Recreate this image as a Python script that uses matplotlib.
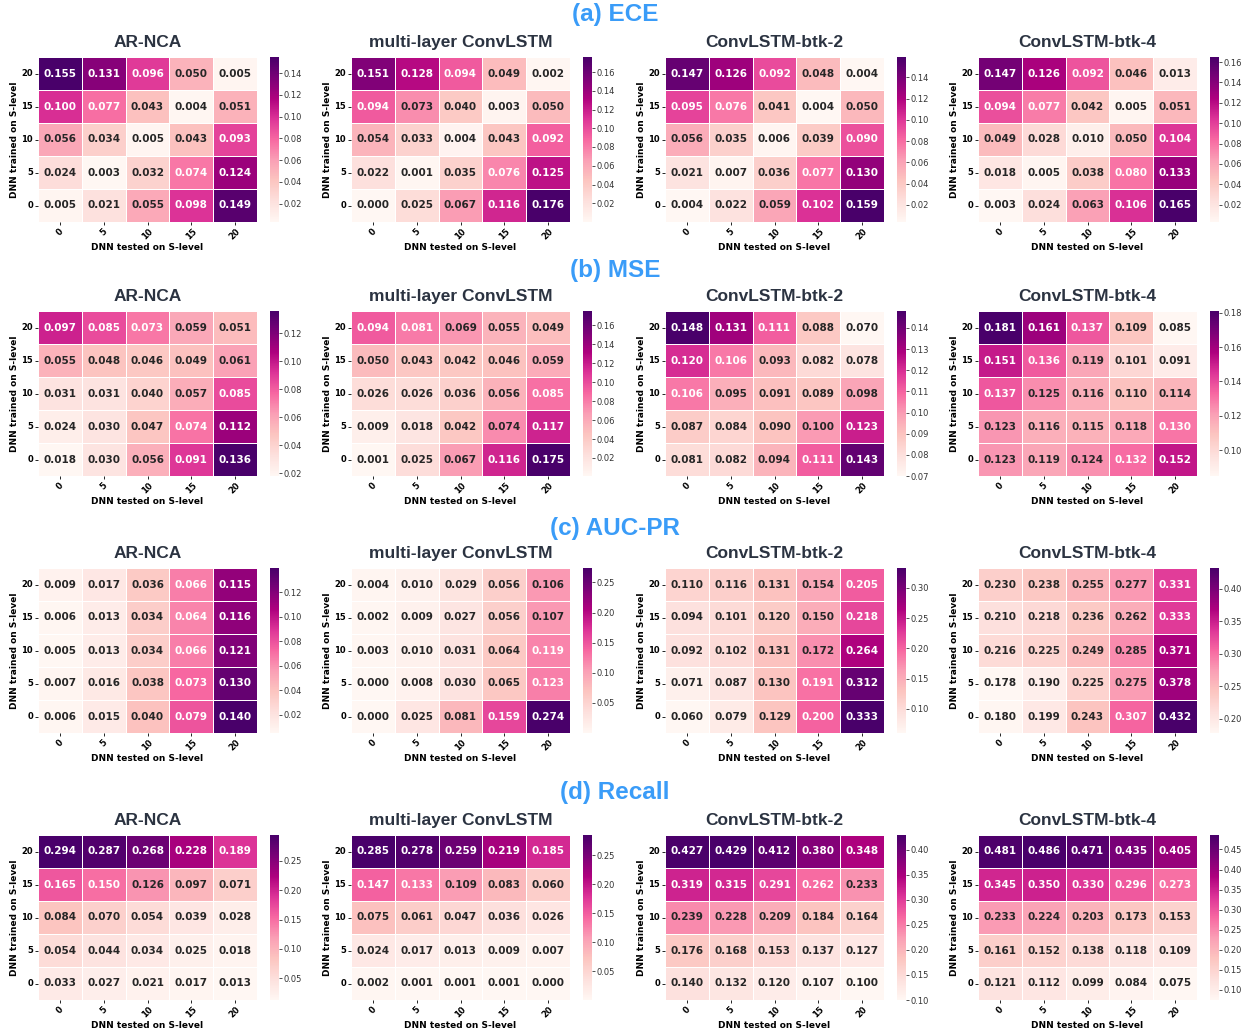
import numpy as np
import matplotlib
matplotlib.use('Agg')
import matplotlib.pyplot as plt
import seaborn as sns
from matplotlib.ticker import FixedLocator, FormatStrFormatter

# rows are trained S-level 20 -> 0 (top to bottom), columns tested S-level 0 -> 20
S_LEVELS = [0, 5, 10, 15, 20]
MODELS = ['AR-NCA', 'multi-layer ConvLSTM', 'ConvLSTM-btk-2', 'ConvLSTM-btk-4']
SECTIONS = ['(a) ECE', '(b) MSE', '(c) AUC-PR', '(d) Recall']

ece_arnca = [[0.155, 0.131, 0.096, 0.050, 0.005],
             [0.100, 0.077, 0.043, 0.004, 0.051],
             [0.056, 0.034, 0.005, 0.043, 0.093],
             [0.024, 0.003, 0.032, 0.074, 0.124],
             [0.005, 0.021, 0.055, 0.098, 0.149]]
ece_mlconv = [[0.151, 0.128, 0.094, 0.049, 0.002],
              [0.094, 0.073, 0.040, 0.003, 0.050],
              [0.054, 0.033, 0.004, 0.043, 0.092],
              [0.022, 0.001, 0.035, 0.076, 0.125],
              [0.000, 0.025, 0.067, 0.116, 0.176]]
ece_btk2 = [[0.147, 0.126, 0.092, 0.048, 0.004],
            [0.095, 0.076, 0.041, 0.004, 0.050],
            [0.056, 0.035, 0.006, 0.039, 0.090],
            [0.021, 0.007, 0.036, 0.077, 0.130],
            [0.004, 0.022, 0.059, 0.102, 0.159]]
ece_btk4 = [[0.147, 0.126, 0.092, 0.046, 0.013],
            [0.094, 0.077, 0.042, 0.005, 0.051],
            [0.049, 0.028, 0.010, 0.050, 0.104],
            [0.018, 0.005, 0.038, 0.080, 0.133],
            [0.003, 0.024, 0.063, 0.106, 0.165]]

mse_arnca = [[0.097, 0.085, 0.073, 0.059, 0.051],
             [0.055, 0.048, 0.046, 0.049, 0.061],
             [0.031, 0.031, 0.040, 0.057, 0.085],
             [0.024, 0.030, 0.047, 0.074, 0.112],
             [0.018, 0.030, 0.056, 0.091, 0.136]]
mse_mlconv = [[0.094, 0.081, 0.069, 0.055, 0.049],
              [0.050, 0.043, 0.042, 0.046, 0.059],
              [0.026, 0.026, 0.036, 0.056, 0.085],
              [0.009, 0.018, 0.042, 0.074, 0.117],
              [0.001, 0.025, 0.067, 0.116, 0.175]]
mse_btk2 = [[0.148, 0.131, 0.111, 0.088, 0.070],
            [0.120, 0.106, 0.093, 0.082, 0.078],
            [0.106, 0.095, 0.091, 0.089, 0.098],
            [0.087, 0.084, 0.090, 0.100, 0.123],
            [0.081, 0.082, 0.094, 0.111, 0.143]]
mse_btk4 = [[0.181, 0.161, 0.137, 0.109, 0.085],
            [0.151, 0.136, 0.119, 0.101, 0.091],
            [0.137, 0.125, 0.116, 0.110, 0.114],
            [0.123, 0.116, 0.115, 0.118, 0.130],
            [0.123, 0.119, 0.124, 0.132, 0.152]]

aucpr_arnca = [[0.009, 0.017, 0.036, 0.066, 0.115],
               [0.006, 0.013, 0.034, 0.064, 0.116],
               [0.005, 0.013, 0.034, 0.066, 0.121],
               [0.007, 0.016, 0.038, 0.073, 0.130],
               [0.006, 0.015, 0.040, 0.079, 0.140]]
aucpr_mlconv = [[0.004, 0.010, 0.029, 0.056, 0.106],
                [0.002, 0.009, 0.027, 0.056, 0.107],
                [0.003, 0.010, 0.031, 0.064, 0.119],
                [0.000, 0.008, 0.030, 0.065, 0.123],
                [0.000, 0.025, 0.081, 0.159, 0.274]]
aucpr_btk2 = [[0.110, 0.116, 0.131, 0.154, 0.205],
              [0.094, 0.101, 0.120, 0.150, 0.218],
              [0.092, 0.102, 0.131, 0.172, 0.264],
              [0.071, 0.087, 0.130, 0.191, 0.312],
              [0.060, 0.079, 0.129, 0.200, 0.333]]
aucpr_btk4 = [[0.230, 0.238, 0.255, 0.277, 0.331],
              [0.210, 0.218, 0.236, 0.262, 0.333],
              [0.216, 0.225, 0.249, 0.285, 0.371],
              [0.178, 0.190, 0.225, 0.275, 0.378],
              [0.180, 0.199, 0.243, 0.307, 0.432]]

recall_arnca = [[0.294, 0.287, 0.268, 0.228, 0.189],
                [0.165, 0.150, 0.126, 0.097, 0.071],
                [0.084, 0.070, 0.054, 0.039, 0.028],
                [0.054, 0.044, 0.034, 0.025, 0.018],
                [0.033, 0.027, 0.021, 0.017, 0.013]]
recall_mlconv = [[0.285, 0.278, 0.259, 0.219, 0.185],
                 [0.147, 0.133, 0.109, 0.083, 0.060],
                 [0.075, 0.061, 0.047, 0.036, 0.026],
                 [0.024, 0.017, 0.013, 0.009, 0.007],
                 [0.002, 0.001, 0.001, 0.001, 0.000]]
recall_btk2 = [[0.427, 0.429, 0.412, 0.380, 0.348],
               [0.319, 0.315, 0.291, 0.262, 0.233],
               [0.239, 0.228, 0.209, 0.184, 0.164],
               [0.176, 0.168, 0.153, 0.137, 0.127],
               [0.140, 0.132, 0.120, 0.107, 0.100]]
recall_btk4 = [[0.481, 0.486, 0.471, 0.435, 0.405],
               [0.345, 0.350, 0.330, 0.296, 0.273],
               [0.233, 0.224, 0.203, 0.173, 0.153],
               [0.161, 0.152, 0.138, 0.118, 0.109],
               [0.121, 0.112, 0.099, 0.084, 0.075]]

GRIDS = [[ece_arnca, ece_mlconv, ece_btk2, ece_btk4],
         [mse_arnca, mse_mlconv, mse_btk2, mse_btk4],
         [aucpr_arnca, aucpr_mlconv, aucpr_btk2, aucpr_btk4],
         [recall_arnca, recall_mlconv, recall_btk2, recall_btk4]]

# colorbar ticks per panel: (first, last, step)
CBAR_TICKS = [[(0.02, 0.14, 0.02), (0.02, 0.16, 0.02), (0.02, 0.14, 0.02), (0.02, 0.16, 0.02)],
              [(0.02, 0.12, 0.02), (0.02, 0.16, 0.02), (0.07, 0.14, 0.01), (0.10, 0.18, 0.02)],
              [(0.02, 0.12, 0.02), (0.05, 0.25, 0.05), (0.10, 0.30, 0.05), (0.20, 0.40, 0.05)],
              [(0.05, 0.25, 0.05), (0.05, 0.25, 0.05), (0.10, 0.40, 0.05), (0.10, 0.45, 0.05)]]

W, H = 1249, 1034
COL_X = [38, 351, 665, 978]
CBAR_X = [270, 583, 897, 1210]
ROW_Y = [57, 311, 568, 835]
SEC_Y = [15, 271, 528, 792]
HM_W, HM_H, CB_W = 219, 165, 9

TITLE_COLOR = '#2b3341'
SECTION_COLOR = '#3a9cf8'


def px_box(x, y, w, h):
    return [x / W, 1 - (y + h) / H, w / W, h / H]


fig = plt.figure(figsize=(W / 100, H / 100), dpi=100)

for r in range(4):
    fig.text(615 / W, 1 - SEC_Y[r] / H, SECTIONS[r], ha='center', va='center',
             fontsize=17.5, fontweight='bold', color=SECTION_COLOR,
             family='Liberation Sans')
    for c in range(4):
        data = np.array(GRIDS[r][c])
        ax = fig.add_axes(px_box(COL_X[c], ROW_Y[r], HM_W, HM_H))
        cax = fig.add_axes(px_box(CBAR_X[c], ROW_Y[r], CB_W, HM_H))
        sns.heatmap(data, ax=ax, cbar_ax=cax, cmap='RdPu', annot=True, fmt='.3f',
                    linewidths=0.7, linecolor='white',
                    annot_kws={'fontsize': 7.5, 'fontweight': 'bold'},
                    xticklabels=S_LEVELS, yticklabels=S_LEVELS[::-1])
        ax.set_title(MODELS[c], fontsize=12.5, fontweight='bold', color=TITLE_COLOR,
                     family='Liberation Sans', pad=7)
        ax.set_xlabel('DNN tested on S-level', fontsize=6.5, fontweight='bold', labelpad=1)
        ax.set_ylabel('DNN trained on S-level', fontsize=6.5, fontweight='bold', labelpad=2)
        ax.tick_params(axis='both', length=2, width=0.6, pad=1.5)
        plt.setp(ax.get_xticklabels(), rotation=45, fontsize=6, fontweight='bold')
        plt.setp(ax.get_yticklabels(), rotation=0, fontsize=6, fontweight='bold')

        t0, t1, step = CBAR_TICKS[r][c]
        ticks = np.arange(t0, t1 + step / 2, step)
        cax.yaxis.set_major_locator(FixedLocator(ticks))
        cax.yaxis.set_major_formatter(FormatStrFormatter('%.2f'))
        cax.tick_params(labelsize=6, length=2, width=0.6, pad=1.5, colors='#333333')

fig.savefig('out.png', dpi=100, facecolor='white')
